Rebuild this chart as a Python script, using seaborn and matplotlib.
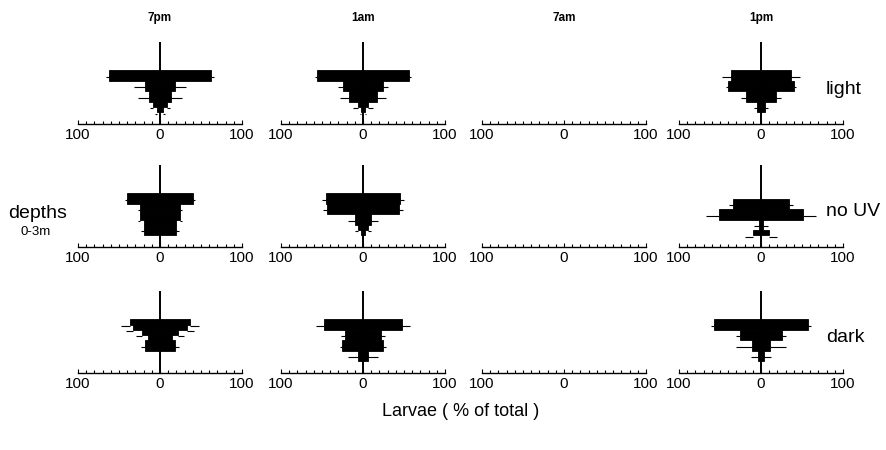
import matplotlib
matplotlib.use("Agg")
import matplotlib.pyplot as plt
import seaborn as sns
import pandas as pd
import numpy as np
from matplotlib.ticker import FixedLocator, FuncFormatter, MultipleLocator

sns.set_theme(style="white")
plt.rcParams['font.family'] = ['Liberation Sans', 'DejaVu Sans']

# ---------------- data ----------------
times = ["7pm", "1am", "7am", "1pm"]
treatments = ["light", "no UV", "dark"]
depth_bins = [0, 1, 2, 3, 4, 5, 6, 7]   # depth classes 0-3 m, top to bottom

# larvae (% of total) per depth class and whisker length
light_7pm = [62, 62, 18, 18, 13, 13, 8, 4]
light_7pm_err = [4, 0, 14, 0, 14, 0, 4, 2]
light_1am = [56, 56, 24, 24, 17, 17, 6, 2]
light_1am_err = [3, 0, 7, 0, 11, 0, 6, 2]
light_7am = []
light_7am_err = []
light_1pm = [37, 37, 40, 40, 18, 18, 5, 5]
light_1pm_err = [11, 0, 3, 0, 6, 0, 3, 0]

nouv_7pm = [40, 40, 24, 24, 24, 20, 20, 20]
nouv_7pm_err = [3, 0, 3, 0, 3, 0, 3, 0]
nouv_1am = [45, 45, 44, 44, 10, 10, 6, 3]
nouv_1am_err = [5, 0, 5, 0, 8, 0, 4, 0]
nouv_7am = []
nouv_7am_err = []
nouv_1pm = [0, 34, 34, 51, 51, 2, 2, 10]
nouv_1pm_err = [0, 5, 0, 16, 0, 7, 0, 9]

dark_7pm = [37, 33, 22, 15, 18, 18, 0, 0]
dark_7pm_err = [10, 9, 7, 0, 5, 0, 0, 0]
dark_1am = [48, 48, 22, 22, 25, 25, 6, 6]
dark_1am_err = [9, 0, 5, 0, 3, 0, 12, 0]
dark_7am = []
dark_7am_err = []
dark_1pm = [57, 57, 26, 26, 11, 11, 4, 4]
dark_1pm_err = [4, 0, 5, 0, 19, 0, 8, 0]

panels = {
    "light": [(light_7pm, light_7pm_err), (light_1am, light_1am_err),
              (light_7am, light_7am_err), (light_1pm, light_1pm_err)],
    "no UV": [(nouv_7pm, nouv_7pm_err), (nouv_1am, nouv_1am_err),
              (nouv_7am, nouv_7am_err), (nouv_1pm, nouv_1pm_err)],
    "dark": [(dark_7pm, dark_7pm_err), (dark_1am, dark_1am_err),
             (dark_7am, dark_7am_err), (dark_1pm, dark_1pm_err)],
}

# ---------------- layout ----------------
W, H = 887, 450
fig = plt.figure(figsize=(W / 100, H / 100), dpi=100)
col_left = [78, 281, 482, 679]
col_w = 164
row_bottom = [124, 247, 373]
ax_h = 82
bin_px = 5.25
ybot = len(depth_bins) + 9 / bin_px
ytop = ybot - ax_h / bin_px

for r, trt in enumerate(treatments):
    for c, t in enumerate(times):
        ax = fig.add_axes([col_left[c] / W, 1 - row_bottom[r] / H, col_w / W, ax_h / H])
        vals, errs = panels[trt][c]
        if len(vals):
            df = pd.DataFrame({"bin": depth_bins, "pct": vals, "neg": [-v for v in vals]})
            for col in ("pct", "neg"):
                sns.barplot(data=df, x=col, y="bin", orient="h", order=depth_bins,
                            color="black", width=1.0, errorbar=None,
                            linewidth=0.6, edgecolor="black", saturation=1, ax=ax)
            ax.axvline(0, color="black", lw=1.4, zorder=5)
            for k, (v, e) in enumerate(zip(vals, errs)):
                if e > 0:
                    yk = k + 0.75
                    ax.hlines(yk, v, v + e, color="black", lw=0.8)
                    ax.hlines(yk, -v, -(v + e), color="black", lw=0.8)
        ax.set_xlim(-100, 100)
        ax.set_ylim(ybot, ytop)
        ax.set_xlabel("")
        ax.set_ylabel("")
        ax.set_yticks([])
        for s in ("top", "left", "right"):
            ax.spines[s].set_visible(False)
        ax.spines["bottom"].set_color("black")
        ax.spines["bottom"].set_linewidth(1.0)
        ax.xaxis.set_major_locator(FixedLocator([-100, 0, 100]))
        ax.xaxis.set_major_formatter(FuncFormatter(lambda x, p: f"{abs(int(x))}"))
        ax.xaxis.set_minor_locator(MultipleLocator(10))
        ax.tick_params(axis="x", which="major", direction="in", length=3, width=0.8,
                       color="black", pad=3, labelsize=11, labelcolor="black", bottom=True)
        ax.tick_params(axis="x", which="minor", direction="in", length=2, width=0.8,
                       color="black", bottom=True)
        ax.set_facecolor("none")

# column headers
for c, t in enumerate(times):
    fig.text((col_left[c] + col_w / 2) / W, 1 - 18 / H, t, ha="center", va="center",
             fontsize=8.5, fontweight="bold", color="black")

# row labels
row_lab_y = [89, 212, 337]
for r, trt in enumerate(treatments):
    fig.text(826 / W, 1 - row_lab_y[r] / H, trt, ha="left", va="center",
             fontsize=14, color="black")

fig.text(8 / W, 1 - 213 / H, "depths", ha="left", va="center", fontsize=14, color="black")
fig.text(36 / W, 1 - 232 / H, "0-3m", ha="center", va="center", fontsize=9.5, color="black")
fig.text(461 / W, 1 - 411 / H, "Larvae ( % of total )", ha="center", va="center",
         fontsize=13, color="black")

fig.savefig("out.png", dpi=100, facecolor="white")
